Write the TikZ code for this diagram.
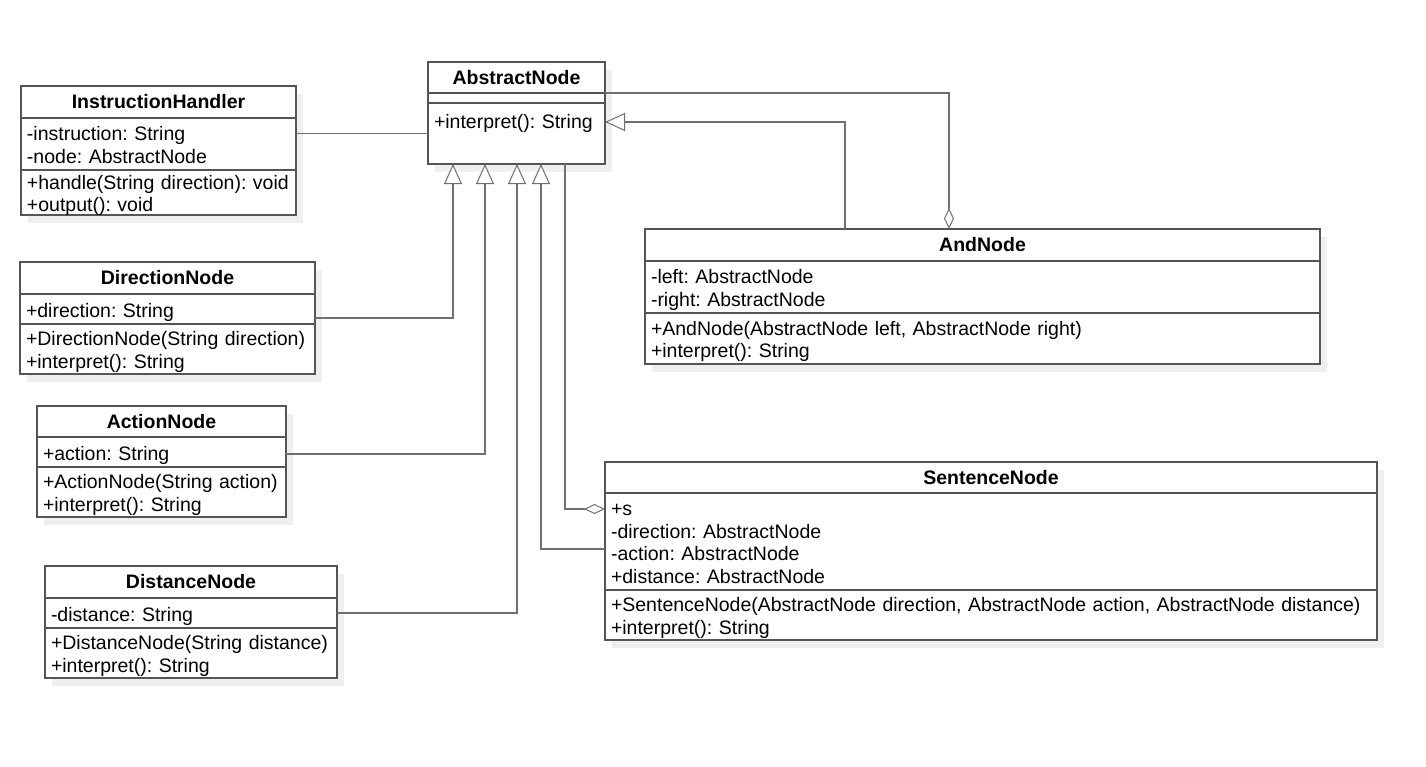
\documentclass[tikz,border=0pt]{standalone}
\usepackage{fontspec}
\setmainfont{Liberation Sans}
\usetikzlibrary{arrows.meta,positioning,shadows}
\definecolor{BoxLine}{HTML}{555555}
\definecolor{LinkLine}{HTML}{6F6F6F}
\definecolor{ShadowGray}{HTML}{EFEFEF}
\newcommand{\umlsize}{\fontsize{19.5}{22.5}\selectfont\frenchspacing}
\newcommand{\members}[1]{\raisebox{-3.5pt}[\height][\depth]{\begin{tabular}{@{}l@{}}#1\end{tabular}}}

\begin{document}
\begin{tikzpicture}[x=1pt,y=-1pt,
  compart/.style={draw=BoxLine,line width=1.2pt,fill=white,anchor=north west,
    inner xsep=6pt,inner ysep=0pt,outer sep=0pt,font=\umlsize,
    drop shadow={shadow xshift=7pt,shadow yshift=-8pt,fill=ShadowGray,opacity=1}},
  classname/.style 2 args={compart,minimum width=#1,minimum height=#2,font=\umlsize\bfseries},
  members/.style 2 args={compart,text width=#1-12,minimum height=#2,align=left},
  link/.style={draw=LinkLine,line width=1.2pt},
  inherit/.style={link,-{Triangle[fill=white,length=20pt,width=18pt,line width=1pt]}},
  aggregate/.style={link,-{Diamond[fill=white,length=21pt,width=10pt,line width=1pt]}}]
  \useasboundingbox (0,0) rectangle (1426,766);

  % abstract base class
  \node[classname={177}{31}] (abs) at (428,62) {AbstractNode};
  \node[members={177}{10}] (abs-a) at (abs.south west) {};
  \node[members={177}{61},text height=19,text depth=34] (abs-m) at (abs-a.south west)
    {\members{+interpret(): String}};

  % left column
  \node[classname={275}{32}] (ih) at (21,86) {InstructionHandler};
  \node[members={275}{52}] (ih-a) at (ih.south west)
    {\members{-instruction: String\\-node: AbstractNode}};
  \node[members={275}{45}] (ih-m) at (ih-a.south west)
    {\members{+handle(String direction): void\\+output(): void}};

  \node[classname={295}{32}] (dir) at (20,262) {DirectionNode};
  \node[members={295}{30}] (dir-a) at (dir.south west) {\members{+direction: String}};
  \node[members={295}{50}] (dir-m) at (dir-a.south west)
    {\members{+DirectionNode(String direction)\\+interpret(): String}};

  \node[classname={249}{31}] (act) at (37,406) {ActionNode};
  \node[members={249}{30}] (act-a) at (act.south west) {\members{+action: String}};
  \node[members={249}{50}] (act-m) at (act-a.south west)
    {\members{+ActionNode(String action)\\+interpret(): String}};

  \node[classname={292}{32}] (dist) at (45,566) {DistanceNode};
  \node[members={292}{30}] (dist-a) at (dist.south west) {\members{-distance: String}};
  \node[members={292}{50}] (dist-m) at (dist-a.south west)
    {\members{+DistanceNode(String distance)\\+interpret(): String}};

  % right side
  \node[classname={675}{32}] (and) at (645,229) {AndNode};
  \node[members={675}{52}] (and-a) at (and.south west)
    {\members{-left: AbstractNode\\-right: AbstractNode}};
  \node[members={675}{51}] (and-m) at (and-a.south west)
    {\members{+AndNode(AbstractNode left, AbstractNode right)\\+interpret(): String}};

  \node[classname={772}{31}] (sen) at (605,462) {SentenceNode};
  \node[members={772}{97}] (sen-a) at (sen.south west)
    {\members{+s\\-direction: AbstractNode\\-action: AbstractNode\\+distance: AbstractNode}};
  \node[members={772}{50}] (sen-m) at (sen-a.south west)
    {\members{+SentenceNode(AbstractNode direction, AbstractNode action, AbstractNode distance)\\+interpret(): String}};

  % relations
  \draw[link] (ih-a.east |- abs-m.west) -- (abs-m.west);
  \draw[inherit] ([yshift=-9]dir-a.east) -| ([xshift=25]abs-m.south west);
  \draw[inherit] ([yshift=-2]act-a.east) -| ([xshift=57]abs-m.south west);
  \draw[inherit] (dist-a.east) -| ([xshift=89]abs-m.south west);
  \draw[inherit] ([yshift=-7.5]sen-a.west) -| ([xshift=113]abs-m.south west);
  \draw[aggregate] ([xshift=137]abs-m.south west) |- ([yshift=32.5]sen-a.west);
  \draw[inherit] ([xshift=200]and.north west) |- ([yshift=11.5]abs-m.east);
  \draw[aggregate] (abs.south east) -| ([xshift=304]and.north west);
\end{tikzpicture}
\end{document}
